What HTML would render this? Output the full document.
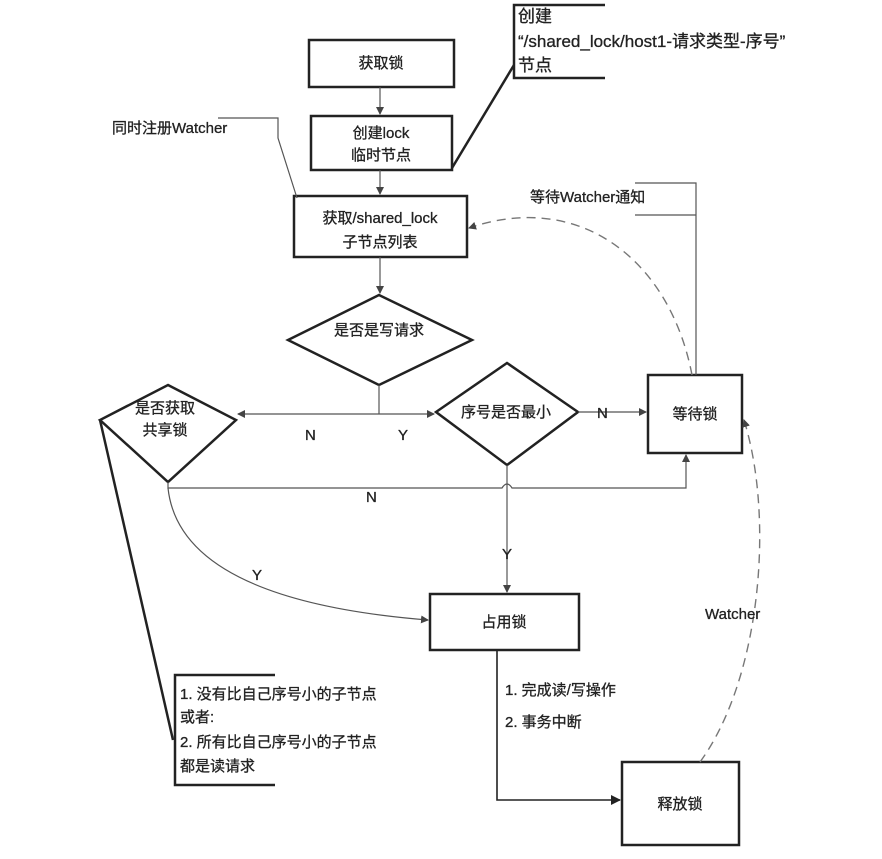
<!DOCTYPE html>
<html><head><meta charset="utf-8"><style>
body{margin:0;background:#fff}
svg text{font-family:"Liberation Sans","Noto Sans CJK SC",sans-serif;font-size:15px;fill:#222;stroke:#222;stroke-width:0.3}
</style></head><body>
<svg width="882" height="854" viewBox="0 0 882 854" xmlns="http://www.w3.org/2000/svg">
<defs><marker id="a" markerWidth="8" markerHeight="8" refX="7" refY="4" orient="auto" markerUnits="userSpaceOnUse"><path d="M0,0 L8,4 L0,8 z" fill="#444"/></marker>
<marker id="b" markerWidth="10" markerHeight="10" refX="9" refY="5" orient="auto" markerUnits="userSpaceOnUse"><path d="M0,0 L10,5 L0,10 z" fill="#222"/></marker></defs>
<g fill="none" stroke="#222" stroke-width="2.5">
<rect x="309" y="40" width="145" height="47"/>
<rect x="311" y="116" width="141" height="54"/>
<rect x="294" y="196" width="173" height="61"/>
<polygon points="379,295 472,340 379,385 288,340"/>
<polygon points="168,385 236,420 168,482 100,420"/>
<polygon points="507,363 578,412 507,465 436,412"/>
<rect x="648" y="375" width="94" height="78"/>
<rect x="430" y="594" width="149" height="56"/>
<rect x="622" y="762" width="117" height="83"/>
<path d="M275,675 H175 V785 H275"/>
<path d="M605,5 H514 V78 H605"/>
<path d="M514,65 L452,168"/>
<path d="M100,420 L173,740"/>
</g>
<g fill="none" stroke="#555" stroke-width="1.2">
<path d="M380,87 V114" marker-end="url(#a)"/>
<path d="M380,170 V194" marker-end="url(#a)"/>
<path d="M380,257 V293" marker-end="url(#a)"/>
<path d="M379,385 V414"/>
<path d="M379,414 H238" marker-end="url(#a)"/>
<path d="M379,414 H434" marker-end="url(#a)"/>
<path d="M578,412 H646" marker-end="url(#a)"/>
<path d="M168,482 V488 H502 Q507,480 512,488 H686 V455" marker-end="url(#a)"/>
<path d="M507,465 V592" marker-end="url(#a)"/>
<path d="M168,488 Q180,600 428,620" marker-end="url(#a)"/>
<path d="M497,650 V800 H620" marker-end="url(#b)" stroke="#222" stroke-width="1.6"/>
<path d="M218,118 H278 V138 L297,198"/>
<path d="M635,183 H696 V375"/>
<path d="M635,215 H696"/>
</g>
<g fill="none" stroke="#777" stroke-width="1.4" stroke-dasharray="9,6">
<path d="M692,375 C670,260 580,190 469,228" marker-end="url(#a)"/>
<path d="M700,762 C760,680 775,520 744,420" marker-end="url(#a)"/>
</g>
<text x="381" y="68" text-anchor="middle">获取锁</text>
<text x="381" y="138" text-anchor="middle">创建lock</text>
<text x="381" y="160" text-anchor="middle">临时节点</text>
<text x="380" y="223" text-anchor="middle">获取/shared_lock</text>
<text x="380" y="247" text-anchor="middle">子节点列表</text>
<text x="379" y="335" text-anchor="middle">是否是写请求</text>
<text x="165" y="413" text-anchor="middle">是否获取</text>
<text x="165" y="435" text-anchor="middle">共享锁</text>
<text x="506" y="417" text-anchor="middle">序号是否最小</text>
<text x="695" y="419" text-anchor="middle">等待锁</text>
<text x="504" y="627" text-anchor="middle">占用锁</text>
<text x="680" y="809" text-anchor="middle">释放锁</text>
<text x="518" y="22" style="font-size:17px">创建</text>
<text x="518" y="47" style="font-size:17px">“/shared_lock/host1-请求类型-序号”</text>
<text x="518" y="71" style="font-size:17px">节点</text>
<text x="112" y="133">同时注册Watcher</text>
<text x="530" y="202">等待Watcher通知</text>
<text x="305" y="440">N</text>
<text x="398" y="440">Y</text>
<text x="597" y="418">N</text>
<text x="366" y="502">N</text>
<text x="502" y="559">Y</text>
<text x="252" y="580">Y</text>
<text x="705" y="619">Watcher</text>
<text x="505" y="695">1. 完成读/写操作</text>
<text x="505" y="727">2. 事务中断</text>
<text x="180" y="699">1.  没有比自己序号小的子节点</text>
<text x="180" y="722">或者:</text>
<text x="180" y="747">2.  所有比自己序号小的子节点</text>
<text x="180" y="771">都是读请求</text>
</svg>
</body></html>
